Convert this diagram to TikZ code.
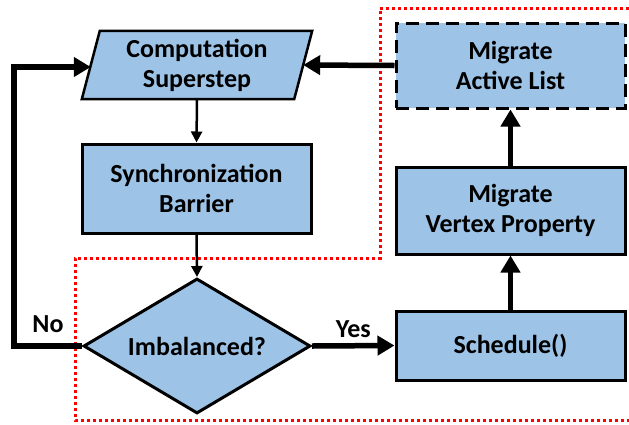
\documentclass[tikz,border=0pt]{standalone}
\usepackage{fontspec}
\setmainfont{Carlito}
\usetikzlibrary{shapes.geometric,arrows.meta,backgrounds}
\definecolor{boxblue}{HTML}{9DC3E6}
\tikzset{
  lbl/.style={font=\bfseries\fontsize{26}{30}\selectfont, align=center},
  box/.style={lbl, draw=black, line width=3pt, fill=boxblue, inner sep=0pt},
  thin/.style={line width=2.5pt, -{Triangle[width=11pt,length=11pt]}},
  thick/.style={line width=5.5pt, -{Triangle[width=19pt,length=17pt]}},
  region/.style={red, line width=3pt, dash pattern=on 3pt off 3pt},
}
\begin{document}
\begin{tikzpicture}[x=1pt,y=-1pt]
\useasboundingbox (0,0) rectangle (629,424);

% the dotted region that encloses the balancing steps
\draw[region] (629,8) -- (380,8) -- (380,258) -- (75,258) -- (75,420) -- (629,420);

% left column
\node[lbl, minimum width=212pt, minimum height=68pt, inner sep=0pt] (cs) at (197,65) {Computation\\Superstep};
\begin{scope}[on background layer]
  \draw[line width=2.5pt, fill=boxblue]
    ([xshift=9pt]cs.north east) -- ([xshift=-9pt]cs.south east) --
    ([xshift=-9pt]cs.south west) -- ([xshift=9pt]cs.north west) -- cycle;
\end{scope}
\node[box, minimum width=229pt, minimum height=89pt] (sb) at (196.5,188.5) {Synchronization\\Barrier};
\node[box, diamond, aspect=1.68, minimum width=227pt, minimum height=135pt] (imb) at (197,346) {Imbalanced?};

% right column
\node[box, minimum width=229pt, minimum height=69pt] (sch) at (510.5,345.5) {Schedule()};
\node[box, minimum width=229pt, minimum height=87pt] (mvp) at (510.5,210.5) {Migrate\\Vertex Property};
\node[box, dash pattern=on 13pt off 7pt, minimum width=229pt, minimum height=85pt] (mal) at (510.5,65.5) {Migrate\\Active List};

% connectors
\draw[thin] (cs.south) -- (sb.north);
\draw[thin] (sb.south) -- (imb.north);
\draw[thick] (imb.east) -- node[lbl, above=2pt] {Yes} (sch.west);
\draw[thick] (sch.north) -- (mvp.south);
\draw[thick] (mvp.north) -- (mal.south);
\draw[thick] (mal.west) -- (cs.east);
\coordinate (lb) at (14,346);
\coordinate (lt) at (14,67);
\draw[thick] (imb.west) -- (lb) -- (lt) -- (cs.west |- lt);
\node[lbl] (no) at (48,324) {No};
\end{tikzpicture}
\end{document}
